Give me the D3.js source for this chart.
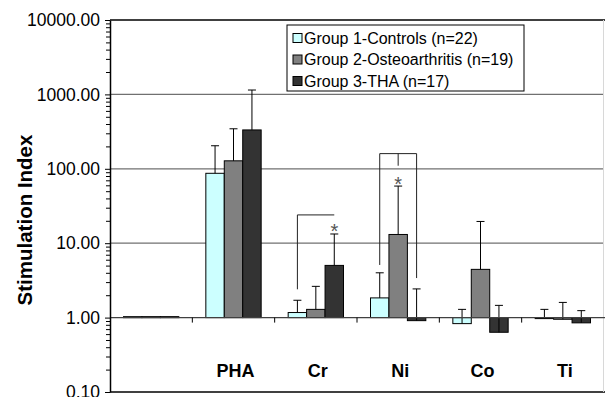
<!DOCTYPE html>
<html>
<head>
<meta charset="utf-8">
<script src="https://cdn.jsdelivr.net/npm/d3@7"></script>
<style>
  body { margin: 0; background: #fff; }
  svg text { font-family: Arial, "Liberation Sans", sans-serif; }
</style>
</head>
<body>
<div id="chart"></div>
<script>
// chart values
const categories = ["", "PHA", "Cr", "Ni", "Co", "Ti"];
const seriesNames = ["Group 1-Controls (n=22)", "Group 2-Osteoarthritis (n=19)", "Group 3-THA (n=17)"];
const controls = [1.03, 87, 1.17, 1.84, 0.83, 0.99];
const osteo = [1.03, 128, 1.29, 13.1, 4.45, 0.95];
const tha = [1.03, 333, 5.03, 0.91, 0.635, 0.85];
// top of each error bar (null = none drawn)
const controlsErr = [null, 204, 1.71, 4.0, 1.29, 1.29];
const osteoErr = [null, 345, 2.63, 58.6, 19.6, 1.60];
const thaErr = [null, 1145, 13.3, 2.43, 1.46, 1.24];
const yTicks = [0.1, 1, 10, 100, 1000, 10000];

// significance brackets: top level, legs [series index, bottom], centre tick bottom, star [series, value]
const brackets = [
    { cat: "Cr", top: 24, legs: [[0, 2.4]], tick: null, star: [2, 17.5] },
    { cat: "Ni", top: 160, legs: [[0, 5.1], [2, 3.4]], tick: 110, star: [1, 76] }
];

const colors = ["#ccffff", "#808080", "#333333"];
const values = [controls, osteo, tha];
const errs = [controlsErr, osteoErr, thaErr];

const width = 605, height = 397;
const margin = { top: 20, right: 1, bottom: 5, left: 110 };

const svg = d3.select('#chart').append('svg')
    .attr('width', width)
    .attr('height', height);

const x0 = d3.scaleBand()
    .domain(categories)
    .range([margin.left, width - margin.right])
    .paddingInner(0).paddingOuter(0);
const bw = x0.bandwidth();
const x1 = d3.scaleBand()
    .domain(d3.range(3))
    .range([bw * 0.164, bw * 0.836]);

const y = d3.scaleLog()
    .domain([0.1, 10000])
    .range([height - margin.bottom, margin.top]);

// gridlines
svg.append('g')
    .selectAll('line')
    .data([10, 100, 1000])
    .enter().append('line')
    .attr('x1', margin.left).attr('x2', width - margin.right)
    .attr('y1', d => y(d)).attr('y2', d => y(d))
    .attr('stroke', '#707070').attr('stroke-width', 1.2);

// plot borders
svg.append('line')
    .attr('x1', margin.left).attr('x2', width)
    .attr('y1', y(10000)).attr('y2', y(10000))
    .attr('stroke', '#404040').attr('stroke-width', 2);
svg.append('line')
    .attr('x1', margin.left).attr('x2', width)
    .attr('y1', y(0.1)).attr('y2', y(0.1))
    .attr('stroke', '#404040').attr('stroke-width', 2);
svg.append('line')
    .attr('x1', width - 1.5).attr('x2', width - 1.5)
    .attr('y1', y(10000)).attr('y2', y(0.1))
    .attr('stroke', '#d8d8d8').attr('stroke-width', 1);

// bars, grown from 1.00
const groups = svg.append('g')
    .selectAll('g')
    .data(categories)
    .enter().append('g')
    .attr('transform', d => `translate(${x0(d)},0)`);

groups.selectAll('rect')
    .data((d, i) => values.map((s, k) => ({ k, v: s[i], e: errs[k][i] })))
    .enter().append('rect')
    .attr('x', d => x1(d.k))
    .attr('width', x1.bandwidth())
    .attr('y', d => Math.min(y(d.v), y(1)))
    .attr('height', d => Math.max(Math.abs(y(d.v) - y(1)), 1))
    .attr('fill', d => colors[d.k])
    .attr('stroke', '#000')
    .attr('stroke-width', 1);

// error bars
const eb = groups.selectAll('g.err')
    .data((d, i) => values.map((s, k) => ({ k, v: s[i], e: errs[k][i] })).filter(d => d.e !== null))
    .enter().append('g')
    .attr('class', 'err');
eb.append('line')
    .attr('x1', d => x1(d.k) + x1.bandwidth() / 2)
    .attr('x2', d => x1(d.k) + x1.bandwidth() / 2)
    .attr('y1', d => y(d.v))
    .attr('y2', d => y(d.e))
    .attr('stroke', '#000');
eb.append('line')
    .attr('x1', d => x1(d.k) + x1.bandwidth() / 2 - 4)
    .attr('x2', d => x1(d.k) + x1.bandwidth() / 2 + 4)
    .attr('y1', d => y(d.e))
    .attr('y2', d => y(d.e))
    .attr('stroke', '#000');

// category axis crossing at 1.00
const xAxis = svg.append('g')
    .attr('transform', `translate(0,${y(1)})`);
xAxis.append('line')
    .attr('x1', margin.left).attr('x2', width)
    .attr('y1', 0).attr('y2', 0)
    .attr('stroke', '#404040').attr('stroke-width', 1.2);
xAxis.selectAll('line.tick')
    .data(categories.slice(1))
    .enter().append('line')
    .attr('class', 'tick')
    .attr('x1', d => x0(d)).attr('x2', d => x0(d))
    .attr('y1', 0).attr('y2', 5)
    .attr('stroke', '#000');

svg.append('g')
    .selectAll('text')
    .data(categories)
    .enter().append('text')
    .attr('x', d => x0(d) + bw / 2 + 2)
    .attr('y', 377)
    .attr('text-anchor', 'middle')
    .attr('font-size', 18)
    .attr('font-weight', 'bold')
    .text(d => d);

// y axis with minor ticks
const minor = [];
for (let p = -1; p < 4; p++) for (let m = 2; m <= 9; m++) minor.push(m * Math.pow(10, p));
svg.append('g')
    .attr('transform', `translate(${margin.left},0)`)
    .call(d3.axisLeft(y).tickValues(minor).tickSize(4).tickFormat(''))
    .call(g => g.select('.domain').remove());
const yAxis = svg.append('g')
    .attr('transform', `translate(${margin.left},0)`)
    .call(d3.axisLeft(y).tickValues(yTicks).tickSize(5).tickSizeOuter(0).tickFormat(d3.format('.2f')));
yAxis.select('.domain').attr('stroke', '#000').attr('stroke-width', 1.5);
yAxis.selectAll('text')
    .attr('font-size', 17.5)
    .attr('fill', '#000')
    .attr('font-family', 'Arial, "Liberation Sans", sans-serif')
    .attr('x', -10);

svg.append('text')
    .attr('transform', `translate(32,${220}) rotate(-90)`)
    .attr('text-anchor', 'middle')
    .attr('font-size', 20.5)
    .attr('font-weight', 'bold')
    .text('Stimulation Index');

// brackets and stars
const cx = (cat, k) => x0(cat) + x1(k) + x1.bandwidth() / 2;
brackets.forEach(b => {
    const left = cx(b.cat, 0);
    const right = b.legs.length > 1 ? cx(b.cat, 2) : cx(b.cat, b.star[0]);
    svg.append('line')
        .attr('x1', left).attr('x2', right)
        .attr('y1', y(b.top)).attr('y2', y(b.top))
        .attr('stroke', '#222');
    b.legs.forEach(l => {
        svg.append('line')
            .attr('x1', cx(b.cat, l[0])).attr('x2', cx(b.cat, l[0]))
            .attr('y1', y(b.top)).attr('y2', y(l[1]))
            .attr('stroke', '#222');
    });
    if (b.tick !== null) {
        svg.append('line')
            .attr('x1', cx(b.cat, 1)).attr('x2', cx(b.cat, 1))
            .attr('y1', y(b.top)).attr('y2', y(b.tick))
            .attr('stroke', '#222');
    }
    svg.append('text')
        .attr('x', cx(b.cat, b.star[0]))
        .attr('y', y(b.star[1]) + 13)
        .attr('text-anchor', 'middle')
        .attr('font-size', 20)
        .attr('fill', '#555')
        .text('*');
});

// legend
const legend = svg.append('g').attr('transform', 'translate(287,25)');
legend.append('rect')
    .attr('width', 237).attr('height', 66)
    .attr('fill', '#fff').attr('stroke', '#000');
const items = legend.selectAll('g')
    .data(seriesNames)
    .enter().append('g')
    .attr('transform', (d, i) => `translate(6,${13 + i * 21.5})`);
items.append('rect')
    .attr('y', -4.5)
    .attr('width', 9).attr('height', 9)
    .attr('fill', (d, i) => colors[i])
    .attr('stroke', '#000');
items.append('text')
    .attr('x', 11)
    .attr('y', 5.5)
    .attr('font-size', 16)
    .text(d => d);
</script>
</body>
</html>
